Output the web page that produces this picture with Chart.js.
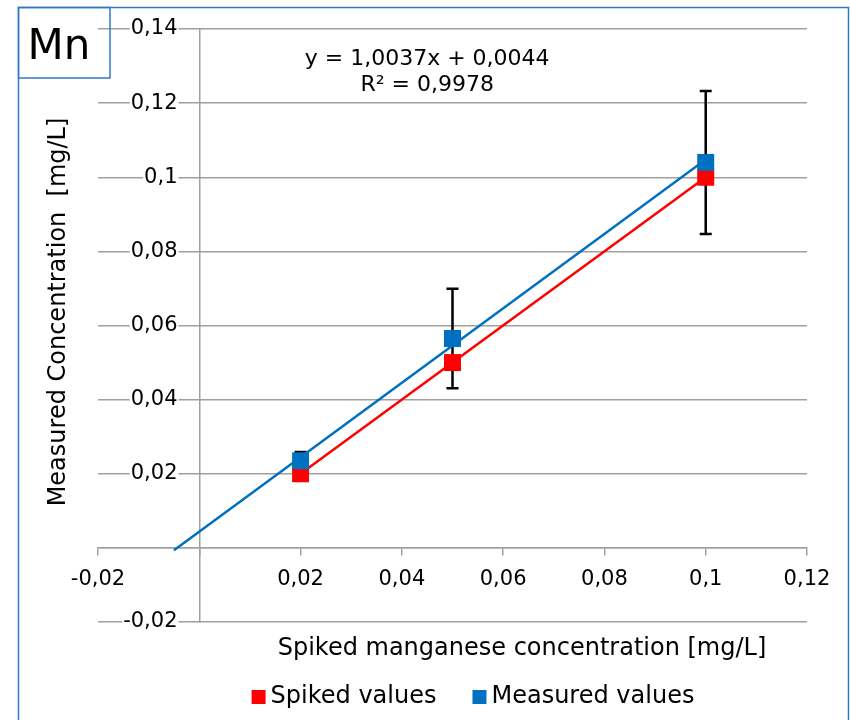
<!DOCTYPE html>
<html>
<head>
<meta charset="utf-8">
<title>Mn – spiked vs measured</title>
<script src="https://cdn.jsdelivr.net/npm/chart.js@4.4.1/dist/chart.umd.min.js"></script>
<style>
  html, body { margin: 0; padding: 0; background: #fff; }
</style>
</head>
<body>
<canvas id="mnChart" width="850" height="720"></canvas>
<script>
// ---------- DATA (mg/L) ----------
const spikedX = [0.02, 0.05, 0.1];
const spikedY = [0.02, 0.05, 0.1];
const measuredY = [0.0235, 0.0565, 0.104];
const measuredErr = [0.0024, 0.0134, 0.0193];

// linear fit of the measured values
const fitSlope = 1.0037;
const fitIntercept = 0.0044;
const fitR2 = 0.9978;
const fitFrom = -0.005; // backward forecast
const fitTo = 0.1;

const xTicks = [-0.02, 0, 0.02, 0.04, 0.06, 0.08, 0.1, 0.12];
const yTicks = [-0.02, 0, 0.02, 0.04, 0.06, 0.08, 0.1, 0.12, 0.14];

// ---------- STYLE ----------
const RED = "#ff0000";
const BLUE = "#0070c0";
const GRID = "#a0a0a0";
const FRAME = "#2e7bc4";
const FONT = "'DejaVu Sans', Verdana, sans-serif";

Chart.defaults.font.family = FONT;
Chart.defaults.color = "#000";

// decimal comma, zero left blank
const fmtTick = (v) => (Math.abs(v) < 1e-9 ? "" : String(Math.round(v * 100) / 100).replace(".", ","));
const fmtDec = (v, d) => v.toFixed(d).replace(".", ",");

const fitPoints = [fitFrom, fitTo].map((x) => ({ x, y: fitSlope * x + fitIntercept }));

// ---------- ERROR BARS (measured values) ----------
const errorBars = {
  id: "errorBars",
  beforeDatasetsDraw(chart) {
    const { ctx, scales: { x, y } } = chart;
    ctx.save();
    ctx.strokeStyle = "#000";
    ctx.lineWidth = 2.5;
    spikedX.forEach((xv, i) => {
      const px = x.getPixelForValue(xv);
      const top = y.getPixelForValue(measuredY[i] + measuredErr[i]);
      const bot = y.getPixelForValue(measuredY[i] - measuredErr[i]);
      ctx.beginPath();
      ctx.moveTo(px, top); ctx.lineTo(px, bot);
      ctx.moveTo(px - 6, top); ctx.lineTo(px + 6, top);
      ctx.moveTo(px - 6, bot); ctx.lineTo(px + 6, bot);
      ctx.stroke();
    });
    ctx.restore();
  },
};

// ---------- FRAME, TITLES, EQUATION, LEGEND ----------
const decorations = {
  id: "decorations",
  afterDraw(chart) {
    const { ctx, chartArea: area, scales: { x, y } } = chart;
    ctx.save();

    // outer frame + element tag
    ctx.strokeStyle = FRAME;
    ctx.lineWidth = 1.5;
    ctx.strokeRect(18.5, 7.5, 830, 740);
    ctx.strokeRect(18.5, 7.5, 91.5, 70.5);
    ctx.fillStyle = "#000";
    ctx.textAlign = "center";
    ctx.textBaseline = "alphabetic";
    ctx.font = "42px " + FONT;
    ctx.fillText("Mn", 59, 59);

    // regression equation
    const eqX = x.getPixelForValue(0.045);
    const eqY = y.getPixelForValue(0.1302);
    ctx.font = "22px " + FONT;
    ctx.fillText("y = " + fmtDec(fitSlope, 4) + "x + " + fmtDec(fitIntercept, 4), eqX, eqY);
    ctx.fillText("R² = " + fmtDec(fitR2, 4), eqX, eqY + 26);

    // axis titles
    ctx.font = "24px " + FONT;
    ctx.textBaseline = "middle";
    ctx.fillText("Spiked manganese concentration [mg/L]", 522, area.bottom + 27);
    ctx.save();
    ctx.translate(59, 312);
    ctx.rotate(-Math.PI / 2);
    ctx.fillText("Measured Concentration  [mg/L]", 0, 0);
    ctx.restore();

    // legend: spiked first, then measured
    const items = chart.data.datasets.filter((d) => d.inLegend);
    const box = 14, gap = 5, itemGap = 36;
    ctx.textAlign = "left";
    const widths = items.map((d) => ctx.measureText(d.label).width);
    const total = widths.reduce((s, w) => s + box + gap + w, 0) + itemGap * (items.length - 1);
    let lx = 473 - total / 2;
    const ly = 697;
    items.forEach((d, i) => {
      ctx.fillStyle = d.backgroundColor;
      ctx.fillRect(lx, ly - box / 2, box, box);
      ctx.fillStyle = "#000";
      ctx.fillText(d.label, lx + box + gap, ly);
      lx += box + gap + widths[i] + itemGap;
    });

    ctx.restore();
  },
};

const tickFont = { size: 21 };

// ---------- CHART ----------
new Chart(document.getElementById("mnChart"), {
  type: "scatter",
  data: {
    datasets: [
      {
        label: "Spiked values",
        inLegend: true,
        data: spikedX.map((x, i) => ({ x, y: spikedY[i] })),
        backgroundColor: RED,
        borderColor: RED,
        borderWidth: 2.5,
        showLine: true,
        pointStyle: "rect",
        pointRadius: 12,
        pointHoverRadius: 12,
        pointBorderWidth: 0,
        order: 1,
      },
      {
        label: "Measured values",
        inLegend: true,
        data: spikedX.map((x, i) => ({ x, y: measuredY[i] })),
        backgroundColor: BLUE,
        borderColor: BLUE,
        showLine: false,
        pointStyle: "rect",
        pointRadius: 12,
        pointHoverRadius: 12,
        pointBorderWidth: 0,
        order: 0,
      },
      {
        label: "Linear (Measured values)",
        inLegend: false,
        data: fitPoints,
        borderColor: BLUE,
        backgroundColor: BLUE,
        borderWidth: 2.5,
        showLine: true,
        pointRadius: 0,
        pointHoverRadius: 0,
        order: 2,
      },
    ],
  },
  options: {
    responsive: false,
    animation: false,
    layout: { padding: { left: 98, right: 43, top: 29, bottom: 98 } },
    plugins: {
      legend: { display: false },
      tooltip: { enabled: false },
    },
    scales: {
      x: {
        type: "linear",
        position: { y: 0 },
        min: -0.02,
        max: 0.12,
        afterBuildTicks: (scale) => { scale.ticks = xTicks.map((value) => ({ value })); },
        grid: { drawOnChartArea: false, drawTicks: true, tickLength: 7, color: GRID, lineWidth: 1.5 },
        border: { display: true, color: GRID, width: 1.5 },
        ticks: { callback: fmtTick, padding: 12, font: tickFont, maxRotation: 0, autoSkip: false },
      },
      // axis line and horizontal grid, crossing at x = 0
      y: {
        type: "linear",
        position: { x: 0 },
        min: -0.02,
        max: 0.14,
        afterBuildTicks: (scale) => { scale.ticks = yTicks.map((value) => ({ value })); },
        grid: { drawTicks: false, color: GRID, lineWidth: 1.5 },
        border: { display: true, color: GRID, width: 1.5 },
        ticks: { display: false },
      },
      // value labels, sitting just left of the axis on top of the grid
      yLabels: {
        type: "linear",
        axis: "y",
        position: { x: -0.0043 },
        min: -0.02,
        max: 0.14,
        afterBuildTicks: (scale) => { scale.ticks = yTicks.map((value) => ({ value })); },
        grid: { display: false },
        border: { display: false },
        ticks: {
          callback: fmtTick,
          font: tickFont,
          autoSkip: false,
          showLabelBackdrop: true,
          backdropColor: "#fff",
          backdropPadding: 1,
        },
      },
    },
  },
  plugins: [errorBars, decorations],
});
</script>
</body>
</html>
